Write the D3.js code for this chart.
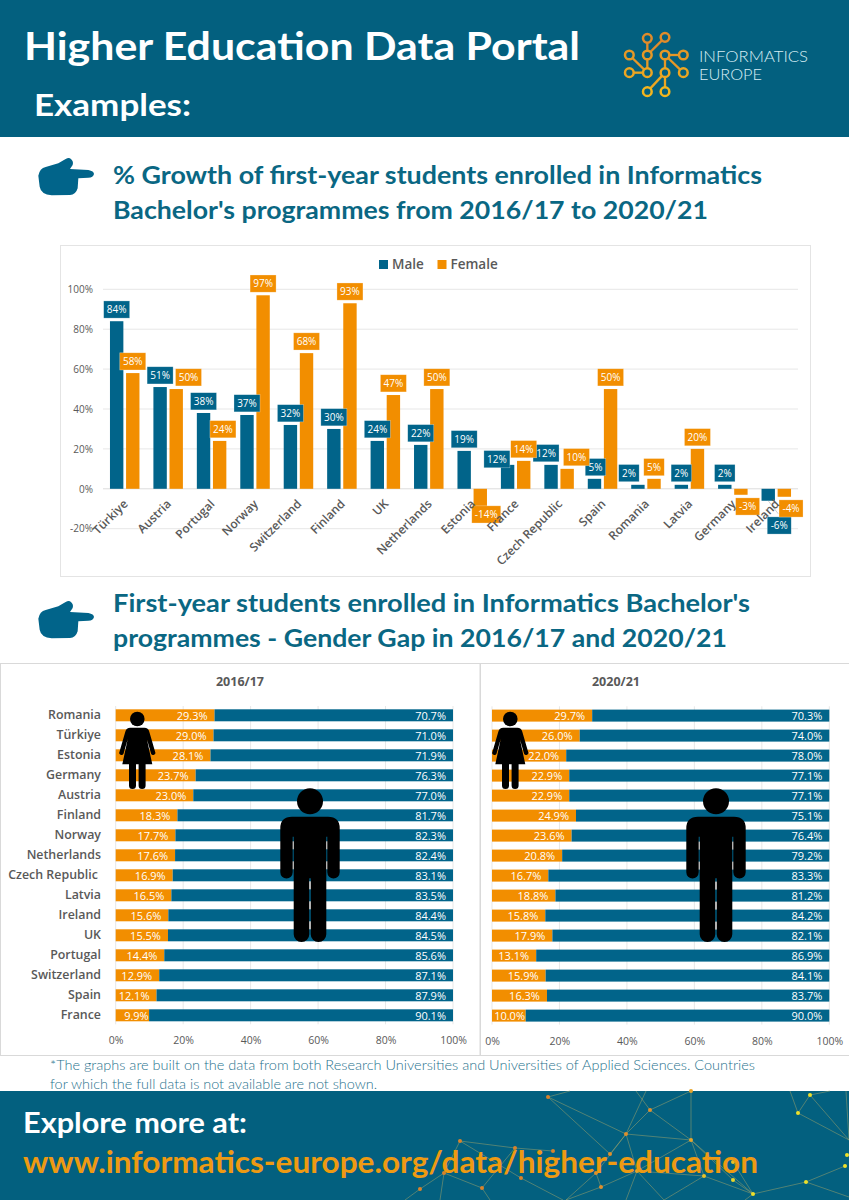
<!DOCTYPE html>
<html><head><meta charset="utf-8">
<script src="https://cdn.jsdelivr.net/npm/d3@7/dist/d3.min.js"></script>
<style>html,body{margin:0;padding:0;background:#fff}svg{display:block}text{white-space:pre}</style>
</head><body><div id="c"></div>
<script>
// ---------- data ----------
const growthCountries=["Türkiye","Austria","Portugal","Norway","Switzerland","Finland","UK","Netherlands","Estonia","France","Czech Republic","Spain","Romania","Latvia","Germany","Ireland"];
const growthMale=[84,51,38,37,32,30,24,22,19,12,12,5,2,2,2,-6];
const growthFemale=[58,50,24,97,68,93,47,50,-14,14,10,50,5,20,-3,-4];
const growthTicks=[-20,0,20,40,60,80,100];
const gapCountries=["Romania","Türkiye","Estonia","Germany","Austria","Finland","Norway","Netherlands","Czech Republic ","Latvia","Ireland","UK","Portugal","Switzerland","Spain","France"];
const gap2016Female=[29.3,29.0,28.1,23.7,23.0,18.3,17.7,17.6,16.9,16.5,15.6,15.5,14.4,12.9,12.1,9.9];
const gap2016Male=[70.7,71.0,71.9,76.3,77.0,81.7,82.3,82.4,83.1,83.5,84.4,84.5,85.6,87.1,87.9,90.1];
const gap2020Female=[29.7,26.0,22.0,22.9,22.9,24.9,23.6,20.8,16.7,18.8,15.8,17.9,13.1,15.9,16.3,10.0];
const gap2020Male=[70.3,74.0,78.0,77.1,77.1,75.1,76.4,79.2,83.3,81.2,84.2,82.1,86.9,84.1,83.7,90.0];
const gapTicks=[0,20,40,60,80,100];

// ---------- layout & style ----------
const TEAL="#01648a",ORANGE="#f28e00",BAND="#03607f",HEAD="#0a6783",GREY="#595959",GRID="#e7e7e7";
const SANS="'Open Sans',sans-serif",DISPLAY="Lato,sans-serif";
const maleShift={France:[-10.7,6],"Czech Republic":[-5,0],Romania:[-9,0],Ireland:[11,13],Spain:[1,0]};
const femaleShift={Austria:[12.3,0],Portugal:[3.3,0],Estonia:[6,-14],"Czech Republic":[9.3,0],Germany:[6.7,0],Ireland:[6.7,0]};

const svg=d3.select("#c").append("svg").attr("width",849).attr("height",1200);
const font=(s,size,weight,fill,fam)=>s.attr("font-family",fam||SANS).attr("font-size",size).attr("font-weight",weight).attr("fill",fill);
function fit(x,y,str,len,size,weight,fill){
  return font(svg.append("text").attr("x",x).attr("y",y).text(str).attr("textLength",len).attr("lengthAdjust","spacingAndGlyphs"),size,weight,fill,DISPLAY);
}

// ---------- bands ----------
svg.append("rect").attr("width",849).attr("height",137).attr("fill",BAND);
svg.append("rect").attr("y",1091).attr("width",849).attr("height",109).attr("fill",BAND);

// footer network decoration
const netNodes={a:[548,1097,"#d9822b"],b:[650,1110,"#e08f2c"],c:[626,1134,"#e08f2c"],d:[691,1140,"#e6a52a"],e:[691,1091,"#e6a52a"],f:[553,1151,"#d9822b"],g:[610,1154,"#e08f2c"],h:[596,1173,"#e08f2c"],i:[601,1187,"#e08f2c"],j:[637,1171,"#e6a52a"],k:[704,1176,"#e6c02a"],l:[733,1180,"#e8d52a"],m:[733,1162,"#e6c02a"],n:[753,1194,"#eee02a"],o:[806,1182,"#eee02a"],p:[845,1166,"#eee02a"],q:[847,1155,"#eee02a"],r:[798,1113,"#eee02a"],s:[810,1095,"#eee02a"],t:[521,1178,"#d9822b"],u:[460,1141,"#d9822b"],v:[515,1148,"#d9822b"],w:[444,1173,"#d9822b"],x:[482,1188,"#d9822b"],y:[420,1189,"#d9822b"]};
const netEdges=[["a","c"],["b","c"],["b","d"],["b","e"],["c","d"],["c","h"],["c","j"],["g","c"],["d","e"],["d","j"],["d","k"],["d","l"],["d","n"],["j","k"],["k","n"],["l","n"],["m","n"],["n","o"],["o","p"],["r","s"],["i","j"],["h","i"],["t","u"],["u","v"],["u","w"],["v","f"],["w","x"],["y","w"],["x","v"],["a","g"]];
const netOpen=[[646,1091,626,1134],[636,1091,650,1110],[798,1113,849,1140],[810,1095,849,1140],[790,1091,798,1113],[810,1095,830,1091],[601,1187,566,1200],[596,1173,566,1200],[637,1171,626,1200],[637,1171,664,1200],[704,1176,664,1200],[521,1178,563,1200],[548,1097,570,1091],[806,1182,849,1197],[753,1194,745,1200],[420,1189,405,1200],[444,1173,440,1200],[482,1188,490,1200],[846,1091,849,1140]];
const net=svg.append("g");
net.selectAll("line.e").data(netEdges).join("line").attr("x1",d=>netNodes[d[0]][0]).attr("y1",d=>netNodes[d[0]][1]).attr("x2",d=>netNodes[d[1]][0]).attr("y2",d=>netNodes[d[1]][1]).attr("stroke","#a0a56c").attr("stroke-width",.6).attr("opacity",.85);
net.selectAll("line.o").data(netOpen).join("line").attr("x1",d=>d[0]).attr("y1",d=>d[1]).attr("x2",d=>d[2]).attr("y2",d=>d[3]).attr("stroke","#a0a56c").attr("stroke-width",.6).attr("opacity",.85);
net.selectAll("circle").data(Object.values(netNodes)).join("circle").attr("cx",d=>d[0]).attr("cy",d=>d[1]).attr("r",2).attr("fill",d=>d[2]);

// ---------- headings ----------
fit(24,60,"Higher Education Data Portal",556,39,700,"#fff");
fit(34,116,"Examples:",157,30,700,"#fff");
fit(113,184,"% Growth of first-year students enrolled in Informatics",649,25,700,HEAD);
fit(113,219,"Bachelor's programmes from 2016/17 to 2020/21",595,25,700,HEAD);
fit(113,612,"First-year students enrolled in Informatics Bachelor's",637,25,700,HEAD);
fit(113,647,"programmes - Gender Gap in 2016/17 and 2020/21",614,25,700,HEAD);
fit(50,1070,"*The graphs are built on the data from both Research Universities and Universities of Applied Sciences. Countries",705,13.5,300,"#1f728d");
fit(50,1089,"for which the full data is not available are not shown.",327,13.5,300,"#1f728d");
fit(23,1133,"Explore more at:",224,28,700,"#fff");
fit(23,1173,"www.informatics-europe.org/data/higher-education",735,30,700,"#ee9a12");

// logo
const logoNodes=[[112,55],[165,52],[58,105],[112,105],[165,105],[220,105],[58,158],[112,158],[165,158],[220,158],[112,215],[165,215]];
const logoEdges=[[0,3],[3,7],[1,3],[2,7],[6,7],[4,5],[4,9],[8,10],[8,11],[4,8]];
const logoColor=d3.scaleLinear().domain([50,215]).range(["#e08a2a","#f3b51e"]);
const logo=svg.append("g").attr("transform","translate(610,20) scale(.3333)");
logo.selectAll("line").data(logoEdges).join("line").attr("x1",d=>logoNodes[d[0]][0]).attr("y1",d=>logoNodes[d[0]][1]).attr("x2",d=>logoNodes[d[1]][0]).attr("y2",d=>logoNodes[d[1]][1]).attr("stroke",d=>logoColor(logoNodes[d[0]][1])).attr("stroke-width",7);
logo.selectAll("circle").data(logoNodes).join("circle").attr("cx",d=>d[0]).attr("cy",d=>d[1]).attr("r",13).attr("fill",BAND).attr("stroke",d=>logoColor(d[1])).attr("stroke-width",7.5);
fit(699,62,"INFORMATICS",109,16.5,300,"#d6edf4");
fit(699,80,"EUROPE",63,16.5,300,"#d6edf4");

// hand icons
const handPath="M135,40 Q147,48 143,60 L135,72 L190,75 Q207,78 207,87 Q205,98 190,98 L160,100 L158,130 Q152,150 135,150 L80,151 Q48,148 44,125 L40,92 Q44,70 62,66 L100,55 L122,42 Q130,37 135,40Z";
[[25,145],[25,588]].forEach(p=>svg.append("path").attr("d",handPath).attr("transform",`translate(${p[0]},${p[1]}) scale(.3333)`).attr("fill",TEAL));

// ---------- growth chart ----------
svg.append("rect").attr("x",60.5).attr("y",245.5).attr("width",750).attr("height",331).attr("fill","#fff").attr("stroke","#e4e4e4");
const gx=d3.scaleBand().domain(growthCountries).range([103,798]);
const gs=d3.scaleBand().domain(["Male","Female"]).range([0,29.5]).paddingInner(.168);
const gy=d3.scaleLinear().domain([-20,100]).range([528.7,289.3]);
const gOff=(gx.bandwidth()-29.5)/2;
const gChart=svg.append("g");
const yAxis=gChart.append("g").attr("transform","translate(103,0)").call(d3.axisLeft(gy).tickValues(growthTicks).tickFormat(d=>d+"%").tickSize(0).tickPadding(10));
yAxis.select(".domain").remove();
yAxis.selectAll("text").call(s=>font(s,10,400,GREY));
gChart.append("g").selectAll("line").data(growthTicks).join("line").attr("x1",103).attr("x2",798).attr("y1",d=>gy(d)).attr("y2",d=>gy(d)).attr("stroke",d=>d===0?"#dcdcdc":GRID).attr("stroke-width",1);
const series=[{k:"Male",v:growthMale,c:TEAL,sh:maleShift},{k:"Female",v:growthFemale,c:ORANGE,sh:femaleShift}];
series.forEach(s=>{
  gChart.append("g").selectAll("rect").data(s.v).join("rect")
   .attr("x",(d,i)=>gx(growthCountries[i])+gOff+gs(s.k)).attr("width",gs.bandwidth())
   .attr("y",d=>Math.min(gy(d),gy(0))).attr("height",d=>Math.abs(gy(d)-gy(0))).attr("fill",s.c);
});
// Ireland leader line
gChart.append("line").attr("x1",gx("Ireland")+gOff+gs("Male")+gs.bandwidth()/2).attr("y1",gy(-6)).attr("x2",gx("Ireland")+gOff+gs("Male")+gs.bandwidth()/2+10).attr("y2",gy(-6)+13).attr("stroke","#bbb").attr("stroke-width",.7);
series.forEach(s=>{
  const lab=gChart.append("g").selectAll("g").data(s.v).join("g").attr("transform",(d,i)=>{
    const c=growthCountries[i],sh=s.sh[c]||[0,0];
    const cx=gx(c)+gOff+gs(s.k)+gs.bandwidth()/2+sh[0];
    const cy=(d>=0?gy(d)-11.7:gy(d)+11.7)+sh[1];
    return `translate(${cx},${cy})`;
  });
  const w=d=>(Math.abs(d)<10?(d<0?24:20.5):(d<0?29:26));
  lab.append("rect").attr("x",d=>-w(d)/2).attr("y",-8.6).attr("width",w).attr("height",17.2).attr("fill",s.c).attr("stroke","#fff").attr("stroke-opacity",.45).attr("stroke-width",.6);
  lab.append("text").attr("text-anchor","middle").attr("y",3.5).text(d=>d+"%").call(t=>font(t,10,400,"#fff"));
});
const xLab=gChart.append("g").selectAll("text").data(growthCountries).join("text")
  .attr("text-anchor","end").attr("transform",d=>`translate(${gx(d)+gx.bandwidth()/2+1},${gy(0)+13}) rotate(-45) translate(0,4)`).text(d=>d);
font(xLab,12,600,GREY);
// legend
const legend=svg.append("g").selectAll("g").data([{k:"Male",c:TEAL,x:379},{k:"Female",c:ORANGE,x:437.5}]).join("g").attr("transform",d=>`translate(${d.x},260)`);
legend.append("rect").attr("width",9).attr("height",9).attr("fill",d=>d.c);
legend.append("text").attr("x",13).attr("y",9.3).text(d=>d.k).call(t=>font(t,13.5,600,GREY));

// ---------- gender gap panels ----------
function drawMan(x){
  const g=svg.append("g").attr("transform",`translate(${x},788.3)`);
  g.append("circle").attr("cy",13).attr("r",13);
  g.append("path").attr("d","M0,28.4 L-18,28.4 Q-29.7,28.4 -29.7,40 L-29.7,84 A6.2,6.2 0 0 0 -17.3,84 L-17.3,48.4 L-16.3,48.4 L-16.3,146 A7.8,7.8 0 0 0 -0.7,146 L-0.7,90 L0.7,90 L0.7,146 A7.8,7.8 0 0 0 16.3,146 L16.3,48.4 L17.3,48.4 L17.3,84 A6.2,6.2 0 0 0 29.7,84 L29.7,40 Q29.7,28.4 18,28.4 Z");
}
function drawWoman(x){
  const g=svg.append("g").attr("transform",`translate(${x},711.7)`);
  g.append("circle").attr("cy",7.3).attr("r",7.3);
  g.append("path").attr("d","M-7,16 L7,16 Q11,16 12,20 L17.8,40 A2.2,2.2 0 0 1 13.8,42 L9.5,27 L15,52.6 L8.3,52.6 L8.3,73.8 A3.5,3.5 0 0 1 1.3,73.8 L1.3,52.6 L-1.3,52.6 L-1.3,73.8 A3.5,3.5 0 0 1 -8.3,73.8 L-8.3,52.6 L-15,52.6 L-9.5,27 L-13.8,42 A2.2,2.2 0 0 1 -17.8,40 L-12,20 Q-11,16 -7,16Z");
}
function panel(o){
  svg.append("rect").attr("x",o.bx).attr("y",663.5).attr("width",o.bw).attr("height",392).attr("fill","#fff").attr("stroke","#d9d9d9");
  const x=d3.scaleLinear().domain([0,100]).range([o.x0,o.x0+337.3]);
  const y=d3.scaleBand().domain(gapCountries).range([o.top,o.top+320]).paddingInner(.4).paddingOuter(.2);
  const g=svg.append("g");
  g.append("g").selectAll("line").data(gapTicks).join("line").attr("x1",d=>x(d)).attr("x2",d=>x(d)).attr("y1",o.top+.7).attr("y2",o.top+319).attr("stroke",GRID);
  font(svg.append("text").attr("x",o.tx).attr("y",686).attr("text-anchor","middle").text(o.title),12.5,700,GREY);
  g.append("g").selectAll("rect").data(o.f).join("rect").attr("x",x(0)).attr("width",d=>x(d)-x(0)).attr("y",(d,i)=>y(gapCountries[i])).attr("height",y.bandwidth()).attr("fill",ORANGE);
  g.append("g").selectAll("rect").data(o.m).join("rect").attr("x",(d,i)=>x(o.f[i])).attr("width",d=>x(100)-x(100-d)).attr("y",(d,i)=>y(gapCountries[i])).attr("height",y.bandwidth()).attr("fill",TEAL);
  const ax=g.append("g").attr("transform",`translate(0,${o.top+320})`).call(d3.axisBottom(x).tickValues(gapTicks).tickFormat(d=>d+"%").tickSize(0).tickPadding(o.tp));
  ax.select(".domain").remove();
  ax.selectAll("text").call(s=>font(s,10.5,400,GREY));
  if(o.labels){
    const l=g.append("g").selectAll("text").data(gapCountries).join("text").attr("x",101).attr("y",d=>y(d)+y.bandwidth()/2+3.5).attr("text-anchor","end").text(d=>d);
    font(l,12.4,600,GREY);
  }
  o.man(o.mx);o.wom(o.wx);
  const fl=g.append("g").selectAll("text").data(o.f).join("text").attr("x",d=>Math.max(x(d)-7,x(0)+33)).attr("y",(d,i)=>y(gapCountries[i])+10.3).attr("text-anchor","end").text(d=>d.toFixed(1)+"%");
  font(fl,11,400,"#fff");
  const ml=g.append("g").selectAll("text").data(o.m).join("text").attr("x",x(100)-7).attr("y",(d,i)=>y(gapCountries[i])+10.3).attr("text-anchor","end").text(d=>d.toFixed(1)+"%");
  font(ml,11,400,"#fff");
}
panel({bx:.5,bw:479.5,x0:115.7,top:705.3,tx:240,title:"2016/17",f:gap2016Female,m:gap2016Male,labels:true,man:drawMan,wom:drawWoman,mx:310,wx:137.3,tp:11});
panel({bx:480.5,bw:370,x0:492,top:705.6,tx:616,title:"2020/21",f:gap2020Female,m:gap2020Male,labels:false,man:drawMan,wom:drawWoman,mx:716,wx:510.3,tp:12});
</script></body></html>
